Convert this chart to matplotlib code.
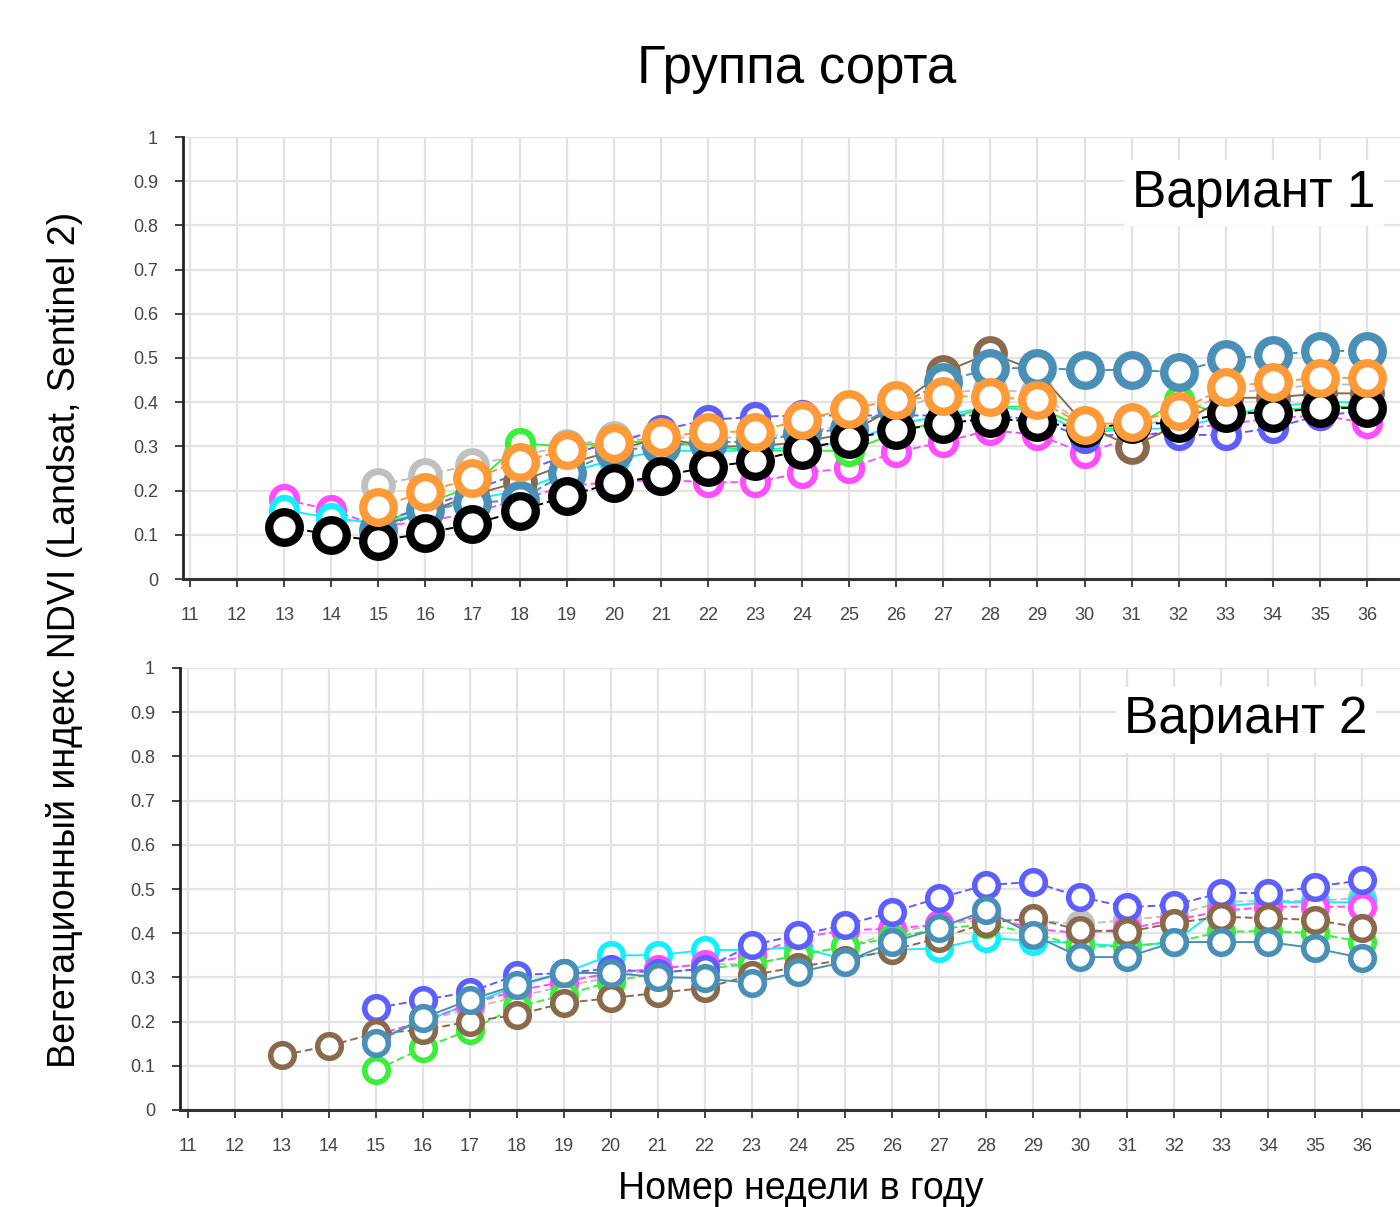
import numpy as np
import matplotlib
matplotlib.use("Agg")
import matplotlib.pyplot as plt

plt.rcParams['font.family'] = ['Liberation Sans', 'DejaVu Sans']

weeks = list(range(13, 37))
xticks = list(range(11, 37))
yticks = [0, 0.1, 0.2, 0.3, 0.4, 0.5, 0.6, 0.7, 0.8, 0.9, 1]
ytick_labels = ['0', '0.1', '0.2', '0.3', '0.4', '0.5', '0.6', '0.7', '0.8', '0.9', '1']
nan = np.nan

# ---- Вариант 1 (weeks 13..36) ----
v1_magenta = [0.18, 0.156, 0.12, 0.13, 0.15, 0.18, 0.21, 0.22, 0.224, 0.219, 0.219, 0.24, 0.251, 0.287, 0.31, 0.337, 0.326, 0.285, 0.319, 0.34, 0.35, 0.364, 0.37, 0.353]
v1_cyan = [0.156, 0.138, 0.126, 0.15, 0.18, 0.20, 0.24, 0.27, 0.29, 0.29, 0.29, 0.30, 0.31, 0.35, 0.37, 0.39, 0.38, 0.33, 0.34, 0.34, 0.37, 0.39, 0.40, 0.40]
v1_gray = [nan, nan, 0.212, 0.235, 0.258, 0.28, 0.30, 0.32, 0.32, 0.32, 0.32, 0.33, 0.35, 0.38, 0.42, 0.43, 0.42, 0.35, 0.34, 0.37, 0.42, 0.43, 0.44, 0.44]
v1_green = [nan, nan, 0.12, 0.17, 0.21, 0.307, 0.30, 0.31, 0.31, 0.30, 0.29, 0.29, 0.29, 0.33, 0.36, 0.39, 0.39, 0.34, 0.34, 0.404, 0.37, 0.38, 0.39, 0.39]
v1_blue = [nan, nan, 0.13, 0.16, 0.20, 0.24, 0.28, 0.31, 0.337, 0.36, 0.367, 0.37, 0.37, 0.37, 0.37, 0.37, 0.36, 0.32, 0.33, 0.326, 0.326, 0.342, 0.37, 0.38]
v1_brown = [nan, nan, 0.12, 0.15, 0.19, 0.22, 0.26, 0.29, 0.32, 0.30, 0.30, 0.31, 0.33, 0.39, 0.468, 0.511, 0.47, 0.35, 0.299, 0.35, 0.41, 0.41, 0.42, 0.42]
v1_steel = [nan, nan, 0.11, 0.156, 0.172, 0.179, 0.24, 0.29, 0.30, 0.31, 0.31, 0.33, 0.34, 0.39, 0.446, 0.477, 0.477, 0.473, 0.473, 0.468, 0.498, 0.507, 0.516, 0.516]
v1_black = [0.118, 0.10, 0.086, 0.104, 0.124, 0.154, 0.188, 0.217, 0.233, 0.253, 0.267, 0.292, 0.317, 0.337, 0.351, 0.364, 0.355, 0.342, 0.351, 0.353, 0.376, 0.376, 0.387, 0.387]
v1_orange = [nan, nan, 0.163, 0.197, 0.228, 0.265, 0.292, 0.308, 0.321, 0.333, 0.333, 0.36, 0.385, 0.405, 0.414, 0.412, 0.405, 0.348, 0.355, 0.38, 0.434, 0.446, 0.455, 0.455]

# ---- Вариант 2 (weeks 13..36) ----
v2_gray = [nan, nan, 0.17, 0.20, 0.23, 0.256, 0.28, 0.30, 0.32, 0.33, 0.33, 0.35, 0.37, 0.40, 0.42, 0.43, 0.43, 0.42, 0.43, 0.44, 0.471, 0.473, 0.473, 0.48]
v2_cyan = [nan, nan, 0.16, 0.20, 0.24, 0.28, 0.31, 0.35, 0.35, 0.362, 0.362, 0.369, 0.34, 0.362, 0.366, 0.389, 0.383, 0.377, 0.37, 0.38, 0.46, 0.47, 0.47, 0.47]
v2_magenta = [nan, nan, 0.17, 0.20, 0.24, 0.27, 0.29, 0.31, 0.32, 0.33, 0.35, 0.389, 0.407, 0.41, 0.42, 0.44, 0.41, 0.40, 0.41, 0.43, 0.45, 0.46, 0.46, 0.46]
v2_green = [nan, nan, 0.09, 0.14, 0.181, 0.233, 0.26, 0.29, 0.31, 0.32, 0.33, 0.35, 0.37, 0.39, 0.41, 0.42, 0.40, 0.37, 0.37, 0.38, 0.403, 0.405, 0.40, 0.38]
v2_blue = [nan, nan, 0.231, 0.249, 0.267, 0.305, 0.31, 0.32, 0.31, 0.32, 0.373, 0.396, 0.419, 0.448, 0.48, 0.509, 0.516, 0.482, 0.459, 0.464, 0.491, 0.491, 0.505, 0.52]
v2_brown = [0.124, 0.145, 0.174, 0.181, 0.20, 0.215, 0.242, 0.253, 0.265, 0.276, 0.305, 0.324, 0.34, 0.362, 0.389, 0.423, 0.434, 0.407, 0.403, 0.423, 0.437, 0.434, 0.43, 0.412]
v2_steel = [nan, nan, 0.152, 0.208, 0.249, 0.283, 0.31, 0.31, 0.301, 0.298, 0.287, 0.312, 0.335, 0.38, 0.412, 0.452, 0.396, 0.346, 0.346, 0.38, 0.38, 0.38, 0.366, 0.344]

C = {
    'magenta': '#ff4dff', 'cyan': '#12f0ff', 'gray': '#c0c0c0', 'green': '#3aef3a',
    'blue': '#5e5eff', 'brown': '#8a6a4c', 'steel': '#4a8fb6', 'black': '#000000',
    'orange': '#ff9a38',
}

top_series = [
    (v1_magenta, 'magenta', (0, (4, 2)), 18, 4.5),
    (v1_cyan, 'cyan', '-', 18, 4.5),
    (v1_gray, 'gray', (0, (4, 2)), 20, 5),
    (v1_green, 'green', '-', 18, 4.5),
    (v1_blue, 'blue', (0, (4, 2)), 18, 4.5),
    (v1_brown, 'brown', '-', 20, 5),
    (v1_steel, 'steel', (0, (4, 2)), 22, 6),
    (v1_black, 'black', (0, (4, 2)), 22, 6),
    (v1_orange, 'orange', (0, (4, 2)), 22, 6),
]
bot_series = [
    (v2_gray, 'gray', (0, (4, 2)), 17, 4),
    (v2_cyan, 'cyan', '-', 17, 4),
    (v2_magenta, 'magenta', (0, (4, 2)), 17, 4),
    (v2_green, 'green', (0, (4, 2)), 17, 4),
    (v2_blue, 'blue', (0, (4, 2)), 17, 4),
    (v2_brown, 'brown', (0, (4, 2)), 17, 4),
    (v2_steel, 'steel', '-', 17, 4),
]

W, H = 1400, 1207
fig = plt.figure(figsize=(W / 100, H / 100), dpi=100)


def make_axes(left_px, y0_px, y1_px, x11_px, step_px):
    xl = 11 - (x11_px - left_px) / step_px
    xr = 37.6
    right_px = x11_px + (xr - 11) * step_px
    ax = fig.add_axes([left_px / W, 1 - y0_px / H, (right_px - left_px) / W, (y0_px - y1_px) / H])
    ax.set_xlim(xl, xr)
    ax.set_ylim(0, 1)
    return ax


def style(ax):
    ax.set_xticks(xticks)
    ax.set_xticks([37], minor=True)
    ax.set_yticks(yticks)
    ax.set_yticklabels(ytick_labels)
    ax.grid(True, which='both', color='#e3e3e3', lw=1.6)
    ax.set_axisbelow(True)
    for s in ['top', 'right']:
        ax.spines[s].set_visible(False)
    ax.spines['left'].set_color('#222222')
    ax.spines['left'].set_linewidth(2)
    ax.spines['bottom'].set_color('#333333')
    ax.spines['bottom'].set_linewidth(2.2)
    ax.tick_params(axis='both', which='both', labelsize=13, labelcolor='#444444', color='#333333',
                   length=6, width=1.3)
    ax.tick_params(axis='x', pad=14)
    ax.tick_params(axis='y', pad=12)


def draw(ax, series):
    for vals, cname, ls, ms, mew in series:
        ax.plot(weeks, vals, color=C[cname], ls=ls, lw=1.4, marker='o', ms=ms,
                mfc='white', mec=C[cname], mew=mew, clip_on=False)


ax1 = make_axes(183, 579, 137, 190, 47.08)
style(ax1)
draw(ax1, top_series)

ax2 = make_axes(180, 1110, 668, 188, 46.96)
style(ax2)
draw(ax2, bot_series)

fig.text(797 / W, 1 - 69 / H, 'Группа сорта', fontsize=38, ha='center', va='center')
fig.text(1254 / W, 1 - 193 / H, 'Вариант 1', fontsize=37, ha='center', va='center',
         bbox=dict(facecolor='white', edgecolor='none', pad=6))
fig.text(1246 / W, 1 - 720 / H, 'Вариант 2', fontsize=37, ha='center', va='center',
         bbox=dict(facecolor='white', edgecolor='none', pad=6))
fig.text(65 / W, 1 - 640 / H, 'Вегетационный индекс NDVI (Landsat, Sentinel 2)', fontsize=27,
         rotation=90, ha='center', va='center')
fig.text(801 / W, 1 - 1199 / H, 'Номер недели в году', fontsize=27, ha='center', va='baseline')

fig.savefig('out.png', dpi=100)
